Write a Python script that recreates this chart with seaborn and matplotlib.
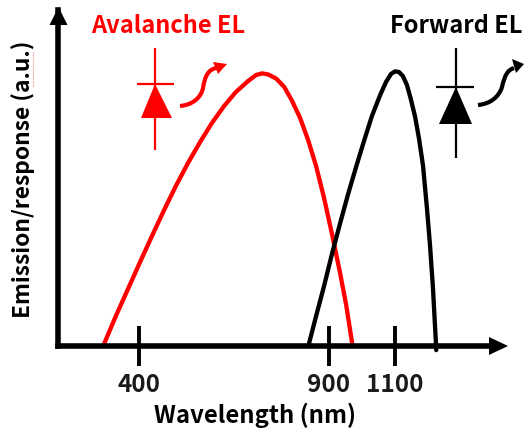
import numpy as np
import pandas as pd
import matplotlib
matplotlib.use("Agg")
import matplotlib.pyplot as plt
from matplotlib.patches import PathPatch, Polygon
from matplotlib.path import Path
import seaborn as sns

# Data
avalanche_wl = [308, 339, 371, 403, 434, 466, 497, 529, 561, 592, 624, 655, 687, 708, 724, 740, 761, 782, 803, 824, 845, 866, 887, 909, 933, 952, 970]
avalanche_em = [0.7, 10.9, 20.8, 30.7, 40.1, 49.6, 58.4, 66.8, 74.5, 81.4, 87.6, 92.7, 96.7, 98.9, 99.5, 99.1, 97.6, 94.6, 89.4, 83.2, 75.2, 65.7, 54, 40.9, 27, 15, 1.1]
forward_wl = [847, 866, 887, 909, 933, 958, 982, 1006, 1030, 1055, 1073, 1088, 1100, 1112, 1124, 1136, 1148, 1161, 1173, 1185, 1197, 1206, 1215, 1224, 1225]
forward_em = [0.7, 10.9, 21.9, 33.6, 44.5, 55.5, 65.3, 74.8, 83.9, 91.6, 96.4, 99.3, 100.2, 100, 98.5, 95.3, 90.1, 83.6, 75.5, 65.7, 50, 36.9, 21.2, 1.1, -1.5]
tick_values = [400, 900, 1100]
tick_labels = ["400", "900", "1100"]
axis_wl = [187, 400, 900, 1100, 1403]
axis_pos = [58, 139, 329, 395, 495]

sns.set_style("white")
FONT = ["Noto Sans CJK KR", "DejaVu Sans"]
plt.rcParams["font.family"] = FONT
W, H = 524, 432
fig = plt.figure(figsize=(W / 100, H / 100), dpi=100)
ax = fig.add_axes([58 / W, (H - 346) / H, (495 - 58) / W, 336 / H])
ax.set_xscale("function", functions=(lambda v: np.interp(v, axis_wl, axis_pos),
                                     lambda p: np.interp(p, axis_pos, axis_wl)))

df = pd.concat([
    pd.DataFrame({"wl": avalanche_wl, "em": avalanche_em, "kind": "Avalanche EL"}),
    pd.DataFrame({"wl": forward_wl, "em": forward_em, "kind": "Forward EL"}),
])
sns.lineplot(data=df, x="wl", y="em", hue="kind", palette={"Avalanche EL": "#ff0000", "Forward EL": "#000000"},
             sort=False, estimator=None, lw=3.1, legend=False, ax=ax, clip_on=False, zorder=2)
ax.set_xlim(axis_wl[0], axis_wl[-1])
ax.set_ylim(0, 336 / 2.74)
ax.set_xticks(tick_values)
ax.set_xticklabels(tick_labels, fontsize=17.5, fontweight="bold", color="#1a1a1a")
ax.xaxis.set_minor_locator(matplotlib.ticker.NullLocator())
ax.tick_params(axis="x", direction="inout", length=29.5, width=2.8, color="black", pad=4.5, bottom=True)
ax.set_yticks([])
ax.set_xlabel("")
ax.set_ylabel("")
for s in ("top", "right"):
    ax.spines[s].set_visible(False)
for s in ("left", "bottom"):
    ax.spines[s].set_linewidth(4.0)
    ax.spines[s].set_color("black")
    ax.spines[s].set_zorder(3)

# Annotation layer in pixel coordinates
ov = fig.add_axes([0, 0, 1, 1], facecolor="none")
ov.set_xlim(0, W)
ov.set_ylim(H, 0)
ov.axis("off")
ov.add_patch(Polygon([(508, 346), (489, 337), (489, 355)], fc="k", ec="none"))
ov.add_patch(Polygon([(58.5, 7), (49.5, 25), (67.5, 25)], fc="k", ec="none"))


def diode(x, y0, y1, bar_y, bx0, bx1, base_y, tx0, tx1, color):
    ov.plot([x, x], [y0, y1], color=color, lw=1.6, solid_capstyle="butt")
    ov.plot([bx0, bx1], [bar_y, bar_y], color=color, lw=1.6, solid_capstyle="butt")
    ov.add_patch(Polygon([(x, bar_y), (tx0, base_y), (tx1, base_y)], fc=color, ec="none"))


def squiggle(pts, head, color):
    codes = [Path.MOVETO] + [Path.CURVE4] * 6
    ov.add_patch(PathPatch(Path(pts, codes), fc="none", ec=color, lw=3.0, capstyle="butt"))
    ov.add_patch(Polygon(head, fc=color, ec="none"))


diode(155, 48, 150, 84, 137, 174, 118, 141, 172, "#ff0000")
diode(456, 48, 158, 87, 436, 474, 124, 439, 472, "#000000")
squiggle([(180, 106), (192, 105), (201, 98), (203, 88), (205, 76), (208, 70), (216, 68)],
         [(227, 64), (213, 62), (218, 74)], "#ff0000")
squiggle([(478, 105), (490, 104), (499, 97), (502, 87), (505, 74), (508, 70), (514, 68)],
         [(524, 64), (512, 59), (516, 73)], "#000000")

ov.text(168, 26, "Avalanche EL", color="#ff0000", fontsize=17, fontweight="bold", ha="center", va="center")
ov.text(456.5, 26, "Forward EL", color="k", fontsize=17, fontweight="bold", ha="center", va="center")
ov.text(255, 415, "Wavelength (nm)", color="k", fontsize=17.2, fontweight="bold", ha="center", va="center")
ov.text(23.5, 179, "Emission/response (a.u.)", color="k", fontsize=16.4, fontweight="bold",
        rotation=90, ha="center", va="center")
ov.plot([32.5, 32.5], [52, 87], color="#ff8080", lw=0.8, ls=(0, (1, 1)))

fig.savefig("out.png", dpi=100)
